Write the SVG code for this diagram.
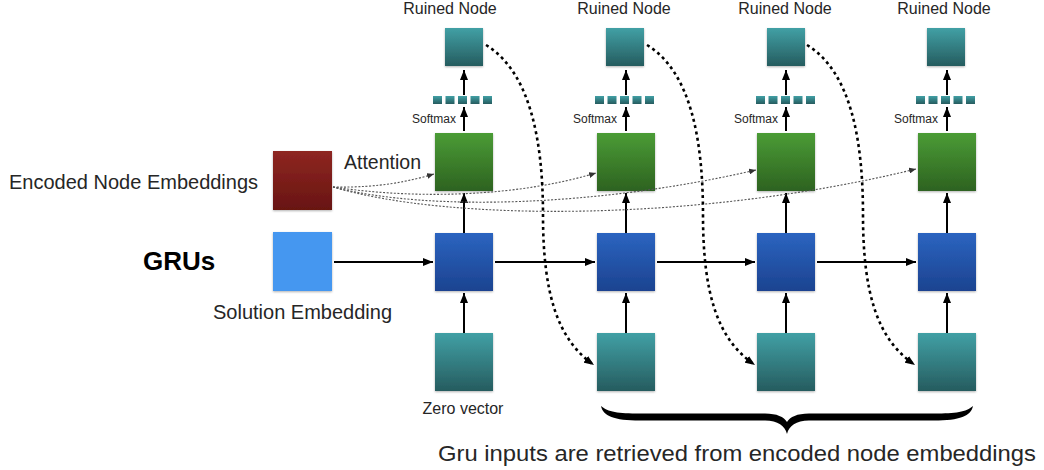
<svg xmlns="http://www.w3.org/2000/svg" width="1044" height="470" viewBox="0 0 1044 470">
<style>
text{font-family:"Liberation Sans",Arial,sans-serif;fill:#262626}
.sm{font-size:12px}
.rn{font-size:16px}
.lb{font-size:20px}
.solid{stroke:#000;stroke-width:2;fill:none}
.dot{stroke:#000;stroke-width:2.6;fill:none;stroke-dasharray:3 3.4}
.att{stroke:#555;stroke-width:1.1;fill:none;stroke-dasharray:2 1.6}
.b{filter:url(#sh)}
</style>
<defs>
<linearGradient id="gG" x1="0" y1="0" x2="0" y2="1"><stop offset="0" stop-color="#4b9c36"/><stop offset="1" stop-color="#2d6220"/></linearGradient>
<linearGradient id="gB" x1="0" y1="0" x2="0" y2="1"><stop offset="0" stop-color="#2b64c0"/><stop offset="1" stop-color="#1c4390"/></linearGradient>
<linearGradient id="gT" x1="0" y1="0" x2="0" y2="1"><stop offset="0" stop-color="#41a0a5"/><stop offset="1" stop-color="#265c5f"/></linearGradient>
<linearGradient id="gR" x1="0" y1="0" x2="0" y2="1"><stop offset="0" stop-color="#8e2622"/><stop offset="1" stop-color="#681511"/></linearGradient>
<filter id="sh" x="-20%" y="-20%" width="140%" height="140%"><feDropShadow dx="0" dy="1" stdDeviation="1.2" flood-color="#000" flood-opacity="0.3"/></filter>
<marker id="ah" viewBox="0 0 10 8" refX="10" refY="4" markerWidth="10" markerHeight="8" markerUnits="userSpaceOnUse" orient="auto"><path d="M0,0L10,4L0,8z" fill="#000"/></marker>
<marker id="ahs" viewBox="0 0 7 6" refX="7" refY="3" markerWidth="7" markerHeight="6" markerUnits="userSpaceOnUse" orient="auto"><path d="M0,0L7,3L0,6z" fill="#333"/></marker>
</defs>

<g id="label-encoded"><text class="lb" x="9" y="189">Encoded Node Embeddings</text></g>
<g id="label-grus"><text x="143" y="270" style="font-size:26px;font-weight:bold;fill:#000">GRUs</text></g>
<g id="label-solution"><text class="lb" x="213" y="319">Solution Embedding</text></g>
<g id="label-attention"><text x="344" y="169" style="font-size:19.5px">Attention</text></g>

<g id="encoded-node"><rect class="b" x="273" y="151" width="59" height="59" fill="url(#gR)"/></g>
<g id="solution-node"><rect class="b" x="273" y="232" width="59" height="59" fill="#4597f0"/></g>

<g id="col1">
<text class="rn" x="450" y="14" text-anchor="middle">Ruined Node</text>
<rect class="b" x="445" y="28" width="38" height="38" fill="url(#gT)"/>
<g fill="url(#gT)"><rect x="433" y="96" width="9" height="8"/><rect x="445.5" y="96" width="9" height="8"/><rect x="458" y="96" width="9" height="8"/><rect x="470.5" y="96" width="9" height="8"/><rect x="483" y="96" width="9" height="8"/></g>
<text class="sm" x="456" y="123" text-anchor="end">Softmax</text>
<rect class="b" x="435" y="133" width="58" height="58" fill="url(#gG)"/>
<rect class="b" x="435" y="233" width="58" height="58" fill="url(#gB)"/>
<rect class="b" x="435" y="333" width="58" height="58" fill="url(#gT)"/>
<text x="463" y="414" text-anchor="middle" style="font-size:16px">Zero vector</text>
</g>

<g id="col2">
<text class="rn" x="624" y="14" text-anchor="middle">Ruined Node</text>
<rect class="b" x="606" y="28" width="38" height="38" fill="url(#gT)"/>
<g fill="url(#gT)"><rect x="595" y="96" width="9" height="8"/><rect x="607.5" y="96" width="9" height="8"/><rect x="620" y="96" width="9" height="8"/><rect x="632.5" y="96" width="9" height="8"/><rect x="645" y="96" width="9" height="8"/></g>
<text class="sm" x="617" y="123" text-anchor="end">Softmax</text>
<rect class="b" x="597" y="133" width="58" height="58" fill="url(#gG)"/>
<rect class="b" x="597" y="233" width="58" height="58" fill="url(#gB)"/>
<rect class="b" x="597" y="333" width="58" height="58" fill="url(#gT)"/>
</g>

<g id="col3">
<text class="rn" x="785" y="14" text-anchor="middle">Ruined Node</text>
<rect class="b" x="767" y="28" width="38" height="38" fill="url(#gT)"/>
<g fill="url(#gT)"><rect x="756" y="96" width="9" height="8"/><rect x="768.5" y="96" width="9" height="8"/><rect x="781" y="96" width="9" height="8"/><rect x="793.5" y="96" width="9" height="8"/><rect x="806" y="96" width="9" height="8"/></g>
<text class="sm" x="778" y="123" text-anchor="end">Softmax</text>
<rect class="b" x="757" y="133" width="58" height="58" fill="url(#gG)"/>
<rect class="b" x="757" y="233" width="58" height="58" fill="url(#gB)"/>
<rect class="b" x="757" y="333" width="58" height="58" fill="url(#gT)"/>
</g>

<g id="col4">
<text class="rn" x="944" y="14" text-anchor="middle">Ruined Node</text>
<rect class="b" x="927" y="28" width="38" height="38" fill="url(#gT)"/>
<g fill="url(#gT)"><rect x="916" y="96" width="9" height="8"/><rect x="928.5" y="96" width="9" height="8"/><rect x="941" y="96" width="9" height="8"/><rect x="953.5" y="96" width="9" height="8"/><rect x="966" y="96" width="9" height="8"/></g>
<text class="sm" x="938" y="123" text-anchor="end">Softmax</text>
<rect class="b" x="918" y="133" width="58" height="58" fill="url(#gG)"/>
<rect class="b" x="918" y="233" width="58" height="58" fill="url(#gB)"/>
<rect class="b" x="918" y="333" width="58" height="58" fill="url(#gT)"/>
</g>

<g id="connectors">
<g class="solid" marker-end="url(#ah)">
<path d="M334,262H433"/><path d="M495,262H595"/><path d="M657,262H755"/><path d="M817,262H916"/>
<path d="M464,333V293"/><path d="M626,333V293"/><path d="M786,333V293"/><path d="M947,333V293"/>
<path d="M464,233V193"/><path d="M626,233V193"/><path d="M786,233V193"/><path d="M947,233V193"/>
<path d="M464,131V107"/><path d="M626,131V107"/><path d="M786,131V107"/><path d="M947,131V107"/>
<path d="M464,95V70"/><path d="M626,95V70"/><path d="M786,95V70"/><path d="M947,95V70"/>
</g>
<g class="att" marker-end="url(#ahs)">
<path d="M333,187C380,188 410,181 434,174"/>
<path d="M333,187C420,200 520,196 596,173"/>
<path d="M333,187C430,212 600,206 756,170"/>
<path d="M333,187C450,222 700,222 916,169"/>
</g>
<g class="dot" marker-end="url(#ah)">
<path d="M486,45C530,72 543,140 543,215C543,295 558,340 594,365"/>
<path d="M647,45C691,72 703,140 703,215C703,295 718,340 755,365"/>
<path d="M807,45C851,72 863,140 863,215C863,295 878,340 915,365"/>
</g>
</g>

<g id="brace">
<path d="M601,406C603,416 614,420.5 640,420.5L765,420.5C778,420.5 785,426 787,434C789,426 796,420.5 809,420.5L934,420.5C960,420.5 971,416 973,406C966,412 956,413.5 934,413.5L809,413.5C797,413.5 790,417 787,422C784,417 777,413.5 765,413.5L640,413.5C618,413.5 608,412 601,406Z" fill="#000"/>
<text x="438" y="461" textLength="598" lengthAdjust="spacingAndGlyphs" style="font-size:22px">Gru inputs are retrieved from encoded node embeddings</text>
</g>
</svg>
